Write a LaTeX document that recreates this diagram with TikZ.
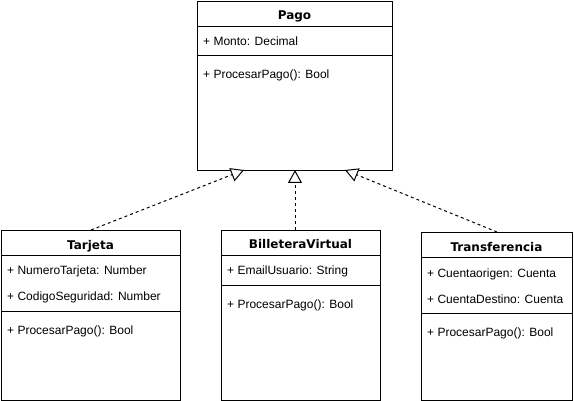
\documentclass[tikz,border=0pt]{standalone}
\usepackage{fontspec}
\setmainfont{Liberation Sans}
\newfontfamily\titlefont{DejaVu Sans Bold}
\usetikzlibrary{arrows.meta,calc}
\tikzset{
  box/.style={draw, line width=1pt, anchor=north west, inner sep=0pt, fill=white},
  ctitle/.style={font=\titlefont\fontsize{12}{14}\selectfont, inner sep=0pt, anchor=base},
  member/.style={font=\fontsize{12}{14}\selectfont, inner sep=0pt, anchor=base west},
  sepline/.style={line width=1pt},
  realize/.style={line width=1pt, dash pattern=on 3pt off 3pt,
    -{Triangle[open, length=13pt, width=14pt, fill=white]}}
}
\begin{document}
\begin{tikzpicture}[x=1pt,y=-1pt]
\useasboundingbox (0,0) rectangle (574,401);
% Pago
\node[box, minimum width=195pt, minimum height=169pt] (pago) at (197,1) {};
\node[ctitle] (pagoT) at (294.5,19.4) {Pago};
\draw[sepline] ($(pago.north west)+(0,26)$) -- ($(pago.north east)+(0,26)$);
\node[member] (pagoA1) at (203,45.3) {+ Monto: Decimal};
\draw[sepline] ($(pago.north west)+(0,55)$) -- ($(pago.north east)+(0,55)$);
\node[member] (pagoM1) at (203,78.6) {+ ProcesarPago(): Bool};
% Tarjeta
\node[box, minimum width=179pt, minimum height=170pt] (tar) at (1,230) {};
\node[ctitle] (tarT) at (90.5,249.4) {Tarjeta};
\draw[sepline] ($(tar.north west)+(0,26)$) -- ($(tar.north east)+(0,26)$);
\node[member] (tarA1) at (7,274.8) {+ NumeroTarjeta: Number};
\node[member] (tarA2) at (7,300.6) {+ CodigoSeguridad: Number};
\draw[sepline] ($(tar.north west)+(0,82)$) -- ($(tar.north east)+(0,82)$);
\node[member] (tarM1) at (7,335) {+ ProcesarPago(): Bool};
% BilleteraVirtual
\node[box, minimum width=159pt, minimum height=170pt] (bil) at (221,230) {};
\node[ctitle] (bilT) at (300.5,248.6) {BilleteraVirtual};
\draw[sepline] ($(bil.north west)+(0,26)$) -- ($(bil.north east)+(0,26)$);
\node[member] (bilA1) at (227,274.5) {+ EmailUsuario: String};
\draw[sepline] ($(bil.north west)+(0,56)$) -- ($(bil.north east)+(0,56)$);
\node[member] (bilM1) at (227,308.8) {+ ProcesarPago(): Bool};
% Transferencia
\node[box, minimum width=151pt, minimum height=168pt] (tra) at (421,232) {};
\node[ctitle] (traT) at (496.5,252) {Transferencia};
\draw[sepline] ($(tra.north west)+(0,26)$) -- ($(tra.north east)+(0,26)$);
\node[member] (traA1) at (427,278) {+ Cuentaorigen: Cuenta};
\node[member] (traA2) at (427,303.4) {+ CuentaDestino: Cuenta};
\draw[sepline] ($(tra.north west)+(0,82)$) -- ($(tra.north east)+(0,82)$);
\node[member] (traM1) at (427,336.8) {+ ProcesarPago(): Bool};
% connectors
\coordinate (pL) at (244,170);
\coordinate (pM) at (295,170);
\coordinate (pR) at (345,170);
\coordinate (bTop) at (295,230);
\draw[realize] (tar.north) -- (pL);
\draw[realize] (bTop) -- (pM);
\draw[realize] (tra.north) -- (pR);
\end{tikzpicture}
\end{document}
